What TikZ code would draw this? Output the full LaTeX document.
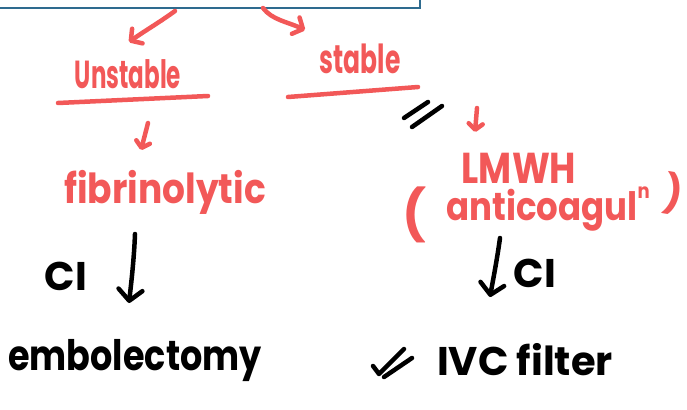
\documentclass[tikz,border=0pt]{standalone}
\usepackage{graphicx}
\usepackage{fontspec}
\setmainfont{Poppins}
\usetikzlibrary{arrows.meta}
\definecolor{penred}{RGB}{242,88,88}
\definecolor{frameblue}{RGB}{46,107,143}
% stretch a word vertically, like tall handwriting
\newcommand{\tallword}[2]{\scalebox{1}[#1]{#2}}
\begin{document}
\begin{tikzpicture}[x=1pt,y=-1pt,
  hand/.style={inner sep=0pt, anchor=base},
  stroke/.style={line width=4.5pt, line cap=round, line join=round},
  redtip/.style={-{Straight Barb[length=8pt,width=18pt,line cap=round,line join=round]}},
  smalltip/.style={-{Straight Barb[length=6pt,width=14pt,line cap=round,line join=round]}},
  blacktip/.style={-{Straight Barb[length=11pt,width=24pt,line cap=round,line join=round]}},
]
\useasboundingbox (0,0) rectangle (687,409);

% edge of the box above
\draw[frameblue, line width=2pt] (0,8) -- (420,8) -- (420,0);

% branch labels
\node[hand, penred, font=\fontsize{23}{23}\selectfont\bfseries] (unstable) at (128,89) {\tallword{1.7}{Unstable}};
\node[hand, penred, font=\fontsize{25}{25}\selectfont\bfseries] (stable) at (360,74) {\tallword{1.6}{stable}};
\draw[stroke, penred] (58,103) -- (208,96);
\draw[stroke, penred] (288,97) -- (418,87);

% arrows out of the box
\coordinate (fromL) at (175,11);
\coordinate (fromR) at (263,8);
\coordinate (uTop) at (129,42);
\coordinate (sTop) at (305,30);
\draw[stroke, penred, redtip] (fromL) .. controls (160,22) and (143,32) .. (uTop);
\draw[stroke, penred, redtip] (fromR) .. controls (272,20) and (288,22) .. (sTop);

% unstable branch
\coordinate (uBot) at (148,123);
\coordinate (fTop) at (141,150);
\draw[stroke, penred, smalltip] (uBot) -- (fTop);
\node[hand, penred, font=\fontsize{36}{36}\selectfont\bfseries] (fib) at (165,203) {\tallword{1.15}{fibrinolytic}};
\coordinate (fBot) at (135,234);
\coordinate (eTop) at (129,303);
\draw[stroke, blacktip] (fBot) .. controls (134,260) and (131,285) .. (eTop);
\node[hand, font=\fontsize{40}{40}\selectfont\bfseries] (ciL) at (66,290) {CI};
\node[hand, font=\fontsize{35}{35}\selectfont\bfseries] (embo) at (135,370) {\tallword{1.2}{embolectomy}};

% stable branch
\draw[stroke] (404,118) -- (428,102);
\draw[stroke] (412,127) -- (442,106);
\coordinate (sBot) at (477,108);
\coordinate (lTop) at (475,132);
\draw[stroke, penred, smalltip] (sBot) -- (lTop);
\node[hand, penred, font=\fontsize{36}{36}\selectfont\bfseries] (lmwh) at (519,183) {\tallword{1.2}{LMWH}};
\node[hand, penred, font=\fontsize{34}{34}\selectfont\bfseries] (anti) at (548,220) {\tallword{1.15}{anticoagul\raisebox{1.0ex}{\fontsize{18}{18}\selectfont n}}};
\node[hand, penred, font=\fontsize{50}{50}\selectfont\bfseries] (lpar) at (414,232) {(};
\node[hand, penred, font=\fontsize{38}{38}\selectfont\bfseries, rotate=-10] (rpar) at (671,207) {)};
\coordinate (aBot) at (500,238);
\coordinate (iTop) at (490,297);
\draw[stroke, blacktip] (aBot) .. controls (497,260) and (493,280) .. (iTop);
\node[hand, font=\fontsize{40}{40}\selectfont\bfseries] (ciR) at (535,287) {CI};
\draw[stroke] (373,366) -- (379,374) -- (404,349);
\draw[stroke] (384,377) -- (412,358);
\node[hand, font=\fontsize{40}{40}\selectfont\bfseries] (ivc) at (525,375) {IVC filter};
\end{tikzpicture}
\end{document}
